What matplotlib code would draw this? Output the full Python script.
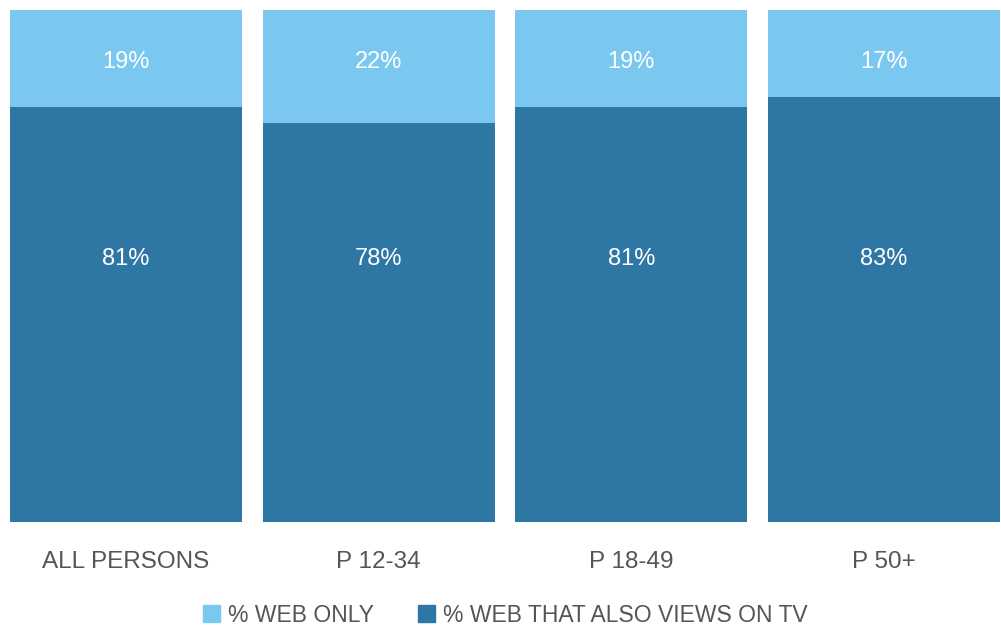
import matplotlib
matplotlib.use("Agg")
import matplotlib.pyplot as plt
from matplotlib.patches import Patch

categories = ["ALL PERSONS", "P 12-34", "P 18-49", "P 50+"]
also_tv = [81, 78, 81, 83]
web_only = [19, 22, 19, 17]
series_names = ["% WEB ONLY", "% WEB THAT ALSO VIEWS ON TV"]

light = "#7AC7F0"
dark = "#2E77A5"
grey = "#555555"

plt.rcParams['font.family'] = ['Liberation Sans', 'DejaVu Sans']

fig = plt.figure(figsize=(10.01, 6.27), dpi=100)
ax = fig.add_axes([10/1001, 105/627, 990/1001, 512/627])

x = list(range(len(categories)))
w = 0.918
ax.bar(x, also_tv, width=w, color=dark)
ax.bar(x, web_only, width=w, bottom=also_tv, color=light)

for i in x:
    ax.text(i, 89.8, f"{web_only[i]}%", ha="center", va="center", color="white", fontsize=17)
    ax.text(i, 51.3, f"{also_tv[i]}%", ha="center", va="center", color="white", fontsize=17)

ax.set_xlim(-w/2, len(categories) - 1 + w/2)
ax.set_ylim(0, 100)
ax.set_xticks(x)
ax.set_xticklabels(categories, fontsize=17.5, color=grey)
ax.tick_params(axis="x", length=0, pad=21)
ax.set_yticks([])
for s in ax.spines.values():
    s.set_visible(False)

handles = [Patch(color=light), Patch(color=dark)]
fig.legend(handles, series_names, loc="center", bbox_to_anchor=(0.505, 1 - 615/627),
           ncol=2, frameon=False, fontsize=16.5, labelcolor=grey, borderpad=0.1,
           handlelength=0.75, handleheight=0.75, handletextpad=0.35, columnspacing=1.9)

fig.savefig("out.png", dpi=100)
